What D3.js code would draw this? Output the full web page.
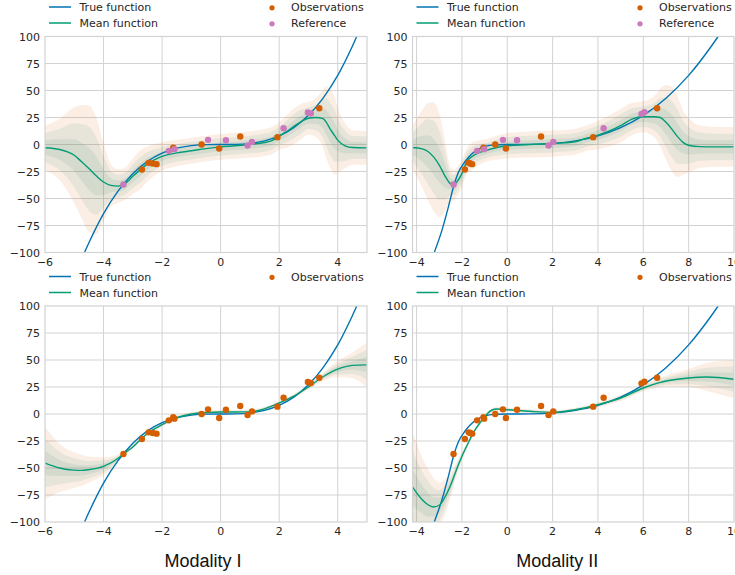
<!DOCTYPE html>
<html><head><meta charset="utf-8">
<script src="https://cdn.jsdelivr.net/npm/d3@7"></script>
<style>
html,body{margin:0;padding:0;background:#fff;}
svg{display:block;}
text{font-family:"DejaVu Sans",sans-serif;}
</style></head>
<body>
<svg id="chart" width="735" height="575"></svg>
<script>
// ---------------- DATA ----------------
const yTicks = [-100,-75,-50,-25,0,25,50,75,100];
const xTicksI = [-6,-4,-2,0,2,4];
const xTicksII = [-4,-2,0,2,4,6,8,10];
const titles = ["Modality I","Modality II"];

// True function, modality I
const trueIX = [-4.65,-4.5,-4,-3.5,-3,-2.5,-2,-1.5,-1,-0.5,0,0.5,1,1.5,2,2.5,3,3.5,4,4.5,4.65];
const trueIY = [-100,-91,-64,-43,-27,-15.6,-8,-3.4,-1,-0.1,0,0.1,1,3.4,8,15.6,27,43,64,91,100];
// True function, modality II
const trueIIX = [-3.22,-2.89,-2.6,-2.35,-2.16,-1.87,-1.58,-1.29,-1,-0.7,0,1,2,3,4,5,6,7,8,9,9.3];
const trueIIY = [-100,-80,-58,-37.5,-26,-16,-9,-4.5,-2,-0.6,0,0.1,1,3.4,8,15.6,27,42.9,64,91,100];

// Observations / reference, modality I
const obsIX = [-2.69,-2.46,-2.32,-2.19,-1.62,-0.65,-0.05,0.67,1.94,3.37];
const obsIY = [-23.1,-17.0,-17.6,-18.2,-3.0,0.0,-3.7,7.4,6.8,33.6];
const refIX = [-3.32,-1.77,-1.58,-0.43,0.18,0.92,1.07,2.15,2.98,3.08];
const refIY = [-37.0,-5.9,-4.3,4.3,4.0,-0.9,2.4,15.1,29.6,28.7];
// modality II
const obsIIX = [-1.87,-1.70,-1.63,-1.55,-1.05,-0.53,-0.06,1.49,3.79,6.61];
const obsIIY = [-23.1,-17.0,-17.6,-18.2,-3.0,0.0,-3.7,7.4,6.8,33.6];
const refIIX = [-2.37,-1.33,-1.02,-0.19,0.43,1.82,2.03,4.25,5.92,6.05];
const refIIY = [-37.0,-5.9,-4.3,4.3,4.0,-0.9,2.4,15.1,28.4,29.9];

// Top-left: mean and std (single-modality fit, modality I)
const tlX = [-6,-5.5,-5,-4.75,-4.5,-4.25,-4,-3.75,-3.5,-3.25,-3,-2.75,-2.5,-2.25,-2,-1.5,-1,-0.5,0,0.5,1,1.5,1.75,2,2.25,2.5,2.75,3,3.25,3.5,3.6,3.75,3.9,4,4.25,4.5,5];
const tlMean = [-3,-4.6,-10,-16,-22.3,-29,-34.7,-37.8,-38.5,-36,-29.5,-23.5,-18,-14,-11,-7.8,-5.8,-3.8,-2.2,-1.2,0,1.8,3.6,7.7,12,16.8,21.3,24.3,25,24,21,14,8,4,-1.2,-2.8,-3.1];
const tlSd = [6.8,9.5,14.8,17.5,19.5,18,12,6.5,5.2,5,5.5,6,5.4,4.8,4.4,4.1,4,4,4,4,4.1,4.2,4.2,4.2,5,5.5,5.5,5,6,9,11,12,12,10,7,5.3,5.2];
// Top-right: modality II fit
const trX = [-4.2,-3.75,-3.5,-3.25,-3,-2.75,-2.5,-2.35,-2.2,-2,-1.8,-1.6,-1.25,-1,-0.5,0,1,2,2.5,3,3.5,4,4.5,5,5.5,6,6.5,6.75,7,7.25,7.5,7.75,8,8.5,9,10];
const trMean = [-2.8,-4,-6.5,-11.5,-19,-29,-36.5,-37.5,-34,-27,-16.2,-11.8,-7.5,-5.9,-3,-1.2,0,0.9,1.5,2.5,5.8,8.7,12.5,17.5,23.5,25.7,25.7,25,20.5,14.5,7.5,2,-0.7,-2,-2.2,-2.2];
const trSd = [6.4,12,15,16.8,16,11,5.2,4.7,4.5,4.3,4,4.3,3.8,3.5,3.7,3.9,4,4.1,4,4,3.9,4.4,4.8,5.2,5,4.8,6.5,9,11.5,13,12.5,10,8.5,6.5,6.2,6.1];
// Bottom-left: multi-modality fit shown on modality I
const blX = [-6,-5.5,-5,-4.75,-4.5,-4,-3.5,-3.32,-3,-2.75,-2.5,-2,-1.5,-1,-0.5,0,0.5,1,1.5,2,2.5,3,3.5,4,4.5,5];
const blMean = [-45.4,-50,-52,-52.2,-51.5,-48.5,-41,-37,-30.5,-24,-18,-9.9,-3.5,0,1.3,1.8,1.9,2,4.8,10.2,16.5,25,34.5,41.5,45,45.5];
const blSd = [11.3,7.5,5.5,4.8,4,2.8,1.2,0.9,0.7,0.6,0.6,0.6,0.6,0.6,0.6,0.6,0.6,0.6,0.6,0.6,0.7,0.8,1.3,2.5,4,7];
// Bottom-right: multi-modality fit shown on modality II
const brX = [-4.2,-3.75,-3.5,-3.26,-3,-2.75,-2.46,-2.25,-2,-1.75,-1.58,-1.4,-1.21,-1,-0.85,-0.48,0,1,2,3,4,5,6,6.75,7,8,8.8,10];
const brMean = [-67,-79.4,-84,-86.1,-84.5,-77,-63.9,-52,-39.2,-28,-20.7,-14,-8.3,-3,0.9,4.6,4,2.5,1.5,4,8.6,14.8,24.1,29.3,30.5,33.3,34.3,32.2];
const brSd = [17,13,11,9,7,5.5,3.5,2.2,1.3,0.9,0.7,0.6,0.6,0.6,0.6,0.6,0.6,0.6,0.6,0.6,0.7,0.9,1.1,1.5,1.7,2.8,4.3,5.9];

// ---------------- DRAW ----------------
const svg = d3.select("#chart");
const C = {blue:"#0173b2", green:"#029e73", orange:"#d55e00", pink:"#cc78bc", grid:"#d3d3d3", text:"#262626",
           bandOuter:"#d55e00", bandInner:"#3a8a72"};
const fmt = v => (v<0 ? "\u2212"+Math.abs(v) : String(v));

const zip = (xs, ys) => xs.map((x,i)=>({x, y:ys[i]}));
const panels = [
  {id:"tl", x0:45, x1:367, y0:36.5, y1:252.5, xdom:[-6,5], xt:xTicksI,
   tX:trueIX, tY:trueIY, mX:tlX, mY:tlMean, sd:tlSd,
   obs:zip(obsIX,obsIY), ref:zip(refIX,refIY), lx:49, dx:272},
  {id:"tr", x0:412.5, x1:734, y0:36.5, y1:252.5, xdom:[-4.18,10], xt:xTicksII,
   tX:trueIIX, tY:trueIIY, mX:trX, mY:trMean, sd:trSd,
   obs:zip(obsIIX,obsIIY), ref:zip(refIIX,refIIY), lx:416.5, dx:640},
  {id:"bl", x0:45, x1:367, y0:306, y1:522, xdom:[-6,5], xt:xTicksI,
   tX:trueIX, tY:trueIY, mX:blX, mY:blMean, sd:blSd,
   obs:zip(obsIX.concat(refIX),obsIY.concat(refIY)), ref:null, lx:49, dx:272, title:titles[0]},
  {id:"br", x0:412.5, x1:734, y0:306, y1:522, xdom:[-4.18,10], xt:xTicksII,
   tX:trueIIX, tY:trueIIY, mX:brX, mY:brMean, sd:brSd,
   obs:zip(obsIIX.concat(refIIX),obsIIY.concat(refIIY)), ref:null, lx:416.5, dx:640, title:titles[1]}
];

panels.forEach(p => {
  const x = d3.scaleLinear().domain(p.xdom).range([p.x0, p.x1]);
  const y = d3.scaleLinear().domain([-100,100]).range([p.y1, p.y0]);
  const g = svg.append("g");
  g.append("defs").append("clipPath").attr("id","clip-"+p.id)
    .append("rect").attr("x",p.x0).attr("y",p.y0).attr("width",p.x1-p.x0).attr("height",p.y1-p.y0);

  // grid
  g.selectAll(".gx").data(p.xt.filter(v=>x(v)>p.x0+1 && x(v)<p.x1-1)).join("line")
    .attr("x1",d=>x(d)).attr("x2",d=>x(d)).attr("y1",p.y0).attr("y2",p.y1)
    .attr("stroke",C.grid).attr("stroke-width",1);
  g.selectAll(".gy").data(yTicks.slice(1,-1)).join("line")
    .attr("x1",p.x0).attr("x2",p.x1).attr("y1",d=>y(d)).attr("y2",d=>y(d))
    .attr("stroke",C.grid).attr("stroke-width",1);

  const plot = g.append("g").attr("clip-path","url(#clip-"+p.id+")");
  const band = k => d3.area().curve(d3.curveMonotoneX)
      .x((d,i)=>x(p.mX[i])).y0((d,i)=>y(p.mY[i]-k*p.sd[i])).y1((d,i)=>y(p.mY[i]+k*p.sd[i]));
  [[3,C.bandOuter,0.1],[2,C.bandInner,0.1],[1,C.bandInner,0.1]].forEach(([k,c,a]) => {
    plot.append("path").attr("d", band(k)(p.mX)).attr("fill",c).attr("fill-opacity",a);
  });
  const line = d3.line().curve(d3.curveMonotoneX).x(d=>x(d.x)).y(d=>y(d.y));
  plot.append("path").attr("d", line(zip(p.tX,p.tY))).attr("fill","none").attr("stroke",C.blue).attr("stroke-width",1.4);
  plot.append("path").attr("d", line(zip(p.mX,p.mY))).attr("fill","none").attr("stroke",C.green).attr("stroke-width",1.4);
  plot.selectAll(".o").data(p.obs).join("circle").attr("cx",d=>x(d.x)).attr("cy",d=>y(d.y)).attr("r",3.2).attr("fill",C.orange);
  if (p.ref) plot.selectAll(".r").data(p.ref).join("circle").attr("cx",d=>x(d.x)).attr("cy",d=>y(d.y)).attr("r",3.2).attr("fill",C.pink);

  // frame
  g.append("rect").attr("x",p.x0).attr("y",p.y0).attr("width",p.x1-p.x0).attr("height",p.y1-p.y0)
    .attr("fill","none").attr("stroke",C.grid).attr("stroke-width",1.2);

  // ticks labels
  g.selectAll(".yl").data(yTicks).join("text").attr("x",p.x0-5).attr("y",d=>y(d)+4)
    .attr("text-anchor","end").attr("font-size",11).attr("fill",C.text).text(fmt);
  g.selectAll(".xl").data(p.xt).join("text").attr("x",d=>x(d)).attr("y",p.y1+13)
    .attr("text-anchor","middle").attr("font-size",11).attr("fill",C.text).text(fmt);

  // legend
  const ly1 = p.y0-29.5, ly2 = p.y0-13.5;
  const leg = g.append("g");
  [[C.blue,"True function",ly1],[C.green,"Mean function",ly2]].forEach(([c,t,yy])=>{
    leg.append("line").attr("x1",p.lx).attr("x2",p.lx+22).attr("y1",yy).attr("y2",yy).attr("stroke",c).attr("stroke-width",1.5);
    leg.append("text").attr("x",p.lx+30.5).attr("y",yy+4).attr("font-size",11).attr("fill",C.text).text(t);
  });
  const dots = [[C.orange,"Observations",ly1]];
  if (p.ref) dots.push([C.pink,"Reference",ly2]);
  dots.forEach(([c,t,yy])=>{
    leg.append("circle").attr("cx",p.dx).attr("cy",yy+0.8).attr("r",2.6).attr("fill",c);
    leg.append("text").attr("x",p.dx+19).attr("y",yy+4).attr("font-size",11).attr("fill",C.text).text(t);
  });

  if (p.title) {
    svg.append("text").attr("x",(p.x0+p.x1)/2 + (p.id==="bl"?-3:-16)).attr("y",567)
      .attr("text-anchor","middle").attr("font-size",18).attr("fill","#111")
      .style("font-family","'Liberation Sans',Arial,sans-serif").text(p.title);
  }
});
</script>
</body></html>
